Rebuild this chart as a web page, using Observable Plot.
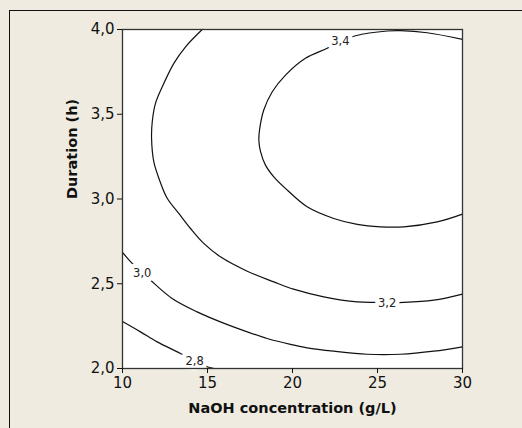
<!DOCTYPE html>
<html>
<head>
<meta charset="utf-8">
<script src="https://cdn.jsdelivr.net/npm/d3@7"></script>
<script src="https://cdn.jsdelivr.net/npm/@observablehq/plot@0.6"></script>
<style>
  html, body { margin: 0; padding: 0; background: #efebe1; overflow: hidden; width: 522px; height: 428px; }
  #border { position: absolute; left: 9px; top: 10px; width: 540px; height: 440px;
          border-left: 1.5px solid #111; border-top: 1.5px solid #111; box-sizing: border-box; }
  #chart { position: absolute; left: 0; top: 0; width: 522px; height: 428px; overflow: hidden; }
  #chart svg { display: block; max-width: none; overflow: hidden; }
</style>
</head>
<body>
<div id="border"></div>
<div id="chart"></div>
<script>
const contour28 = [[10,2.277],[11.06,2.216],[12.04,2.157],[13.41,2.089],[14.24,2.045],[15.02,2.009],[15.41,2.0]];
const contour30 = [[10,2.685],[10.57,2.620],[11.16,2.566],[11.65,2.521],[12.92,2.413],[14.39,2.334],[15.76,2.275],[17.34,2.216],[18.51,2.177],[19.88,2.142],[20.86,2.122],[22.43,2.102],[24.39,2.084],[26.35,2.084],[28.31,2.102],[30,2.128]];
const contour32 = [[14.69,4.0],[13.71,3.898],[13.02,3.800],[12.34,3.662],[11.94,3.564],[11.75,3.456],[11.71,3.358],[11.84,3.220],[12.14,3.122],[12.63,3.004],[13.31,2.915],[14.00,2.826],[14.78,2.738],[15.76,2.659],[17.34,2.574],[18.90,2.511],[20.06,2.468],[21.84,2.423],[23.81,2.393],[24.88,2.390],[26.55,2.390],[28.31,2.403],[30,2.439]];
const contour34 = [[30,3.942],[27.92,3.981],[26.35,3.993],[25.57,3.991],[23.71,3.963],[22.82,3.930],[22.04,3.889],[20.76,3.830],[19.59,3.731],[18.81,3.633],[18.31,3.525],[18.06,3.407],[18.02,3.348],[18.12,3.279],[18.41,3.200],[18.90,3.131],[19.69,3.053],[20.86,2.954],[22.43,2.885],[23.81,2.850],[25.18,2.836],[26.55,2.836],[28.51,2.865],[30,2.911]];

const levels = ["2,8", "3,0", "3,2", "3,4"];
const labelX = [14.24, 11.16, 25.57, 22.82];
const labelY = [2.045, 2.563, 2.387, 3.932];

const xTicks = [10, 15, 20, 25, 30];
const yTicks = [2.0, 2.5, 3.0, 3.5, 4.0];
const xTitle = "NaOH concentration (g/L)";
const yTitle = "Duration (h)";

const lines = [contour28, contour30, contour32, contour34]
  .flatMap((pts, i) => pts.map(([x, y]) => ({x, y, level: levels[i]})));
const labels = levels.map((t, i) => ({x: labelX[i], y: labelY[i], text: t}));

const fmt = d => d.toFixed(1).replace(".", ",");

const chart = Plot.plot({
  width: 522,
  height: 428,
  marginLeft: 122,
  marginRight: 60,
  marginTop: 29,
  marginBottom: 60,
  style: {background: "transparent", fontFamily: "DejaVu Sans, Verdana, sans-serif", color: "#111", maxWidth: "none", overflow: "hidden"},
  x: {domain: [10, 30]},
  y: {domain: [2, 4]},
  marks: [
    Plot.frame({fill: "white", stroke: null}),
    Plot.line(lines, {x: "x", y: "y", z: "level", stroke: "#111", strokeWidth: 1.2, curve: "catmull-rom"}),
    Plot.text(labels, {x: "x", y: "y", text: "text", fontSize: 11.5, fill: "#222",
      stroke: "white", strokeWidth: 9, strokeLinejoin: "round"}),
    Plot.frame({stroke: "#333", strokeWidth: 1.3}),
    Plot.axisX({ticks: xTicks, tickFormat: d => String(d), tickSize: 5, tickPadding: 4,
      fontSize: 15, label: null}),
    Plot.axisY({ticks: yTicks, tickFormat: fmt, tickSize: 5, tickPadding: 3,
      fontSize: 15, label: null}),
    Plot.text([xTitle], {frameAnchor: "bottom", text: d => d, dy: 40, lineAnchor: "middle",
      fontSize: 14.5, fontWeight: "bold", fill: "#111"}),
    Plot.text([yTitle], {frameAnchor: "left", text: d => d, dx: -50, rotate: -90, lineAnchor: "middle",
      fontSize: 14.5, fontWeight: "bold", fill: "#111"})
  ]
});
document.getElementById("chart").appendChild(chart);
</script>
</body>
</html>
